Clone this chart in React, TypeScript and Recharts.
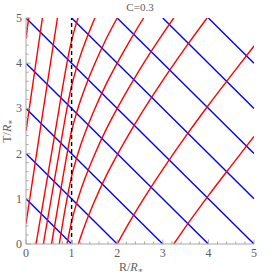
import { LineChart, Line, XAxis, YAxis } from "recharts";

const FRAME = "#a6a6a6";
const TEXT = "#5e5e5e";
const FONT = "'Liberation Serif', 'DejaVu Serif', serif";
const RED = "#ff0000";
const BLUE = "#0000ff";

const MAJOR_TICKS = [0, 1, 2, 3, 4, 5];
const ALL_TICKS = [
  0, 0.2, 0.4, 0.6, 0.8, 1, 1.2, 1.4, 1.6, 1.8, 2, 2.2, 2.4, 2.6, 2.8, 3,
  3.2, 3.4, 3.6, 3.8, 4, 4.2, 4.4, 4.6, 4.8, 5,
];

// ingoing rays (blue), [R, T]
const IN_RAYS: number[][][] = [
  [[0, 1], [1, 0]],
  [[0, 2], [2, 0]],
  [[0, 3], [3, 0]],
  [[0, 4], [4, 0]],
  [[0, 5], [5, 0]],
  [[1, 5], [5, 1]],
  [[2, 5], [5, 2]],
  [[3, 5], [5, 3]],
  [[4, 5], [5, 4]],
];

// outgoing rays (red), [R, T]
const OUT_L3 = [[0, 4.55], [0.03, 4.78], [0.06, 5]];
const OUT_L2 = [[0, 2.5], [0.18, 3.75], [0.36, 5]];
const OUT_L1 = [[0, 0.45], [0.33, 2.65], [0.69, 5]];
const OUT_B1 = [[0.22, 0], [0.61, 2.3], [1, 4.5], [1.1, 4.87], [1.14, 5]];
const OUT_B2 = [[0.38, 0], [0.69, 1.8], [1, 3.5], [1.1, 3.87], [1.2, 4.19], [1.3, 4.47], [1.51, 5]];
const OUT_B3 = [[0.56, 0], [0.78, 1.3], [1, 2.5], [1.1, 2.87], [1.2, 3.19], [1.3, 3.47], [1.5, 3.97], [1.75, 4.52], [2, 5]];
const OUT_B4 = [[0.73, 0], [0.86, 0.78], [1, 1.5], [1.1, 1.87], [1.2, 2.19], [1.3, 2.47], [1.5, 2.97], [1.75, 3.52], [2, 4.0], [2.25, 4.45], [2.58, 5]];
const OUT_B5 = [[0.9, 0], [0.95, 0.26], [1, 0.5], [1.1, 0.87], [1.2, 1.19], [1.3, 1.47], [1.5, 1.97], [1.75, 2.52], [2, 3.0], [2.5, 3.87], [3, 4.65], [3.24, 5]];
const OUT_A = [[1.15, 0], [1.2, 0.16], [1.3, 0.44], [1.5, 0.94], [1.75, 1.49], [2, 1.97], [2.5, 2.84], [3, 3.62], [3.5, 4.35], [3.97, 5]];
const OUT_D = [[2, 0], [2.25, 0.45], [2.5, 0.87], [3, 1.65], [3.5, 2.38], [4, 3.07], [4.5, 3.73], [5, 4.38]];
const OUT_E = [[3.24, 0], [3.5, 0.38], [4, 1.07], [4.5, 1.73], [5, 2.38]];
const OUT_RAYS = [OUT_L3, OUT_L2, OUT_L1, OUT_B1, OUT_B2, OUT_B3, OUT_B4, OUT_B5, OUT_A, OUT_D, OUT_E];

// stellar surface
const SURFACE = [[1, 0], [1, 5]];

const toXY = (pts: number[][]) => pts.map(([x, y]) => ({ x, y }));
const isMajor = (v: number) => MAJOR_TICKS.includes(v);
const tickText = { fontFamily: FONT, fontSize: 12, fill: TEXT };

function BottomTick({ x, y, payload }: any) {
  const major = isMajor(payload.value);
  return (
    <g>
      <line x1={x} x2={x} y1={y} y2={y - (major ? 4.5 : 2.5)} stroke={FRAME} />
      {major && (
        <text x={x} y={y + 13} textAnchor="middle" {...tickText}>
          {payload.value}
        </text>
      )}
    </g>
  );
}

function LeftTick({ x, y, payload }: any) {
  const major = isMajor(payload.value);
  return (
    <g>
      <line x1={x} x2={x + (major ? 4.5 : 2.5)} y1={y} y2={y} stroke={FRAME} />
      {major && (
        <text x={x - 4} y={y + 4} textAnchor="end" {...tickText}>
          {payload.value}
        </text>
      )}
    </g>
  );
}

function TopTick({ x, y, payload }: any) {
  const major = isMajor(payload.value);
  return <line x1={x} x2={x} y1={y} y2={y + (major ? 4.5 : 2.5)} stroke={FRAME} />;
}

function RightTick({ x, y, payload }: any) {
  const major = isMajor(payload.value);
  return <line x1={x} x2={x - (major ? 4.5 : 2.5)} y1={y} y2={y} stroke={FRAME} />;
}

export default function App() {
  return (
    <div style={{ position: "absolute", left: 0, top: 0, width: 273, height: 280 }}>
      <LineChart width={273} height={280} margin={{ top: 18, right: 19, bottom: 16, left: 8 }}>
        <XAxis
          xAxisId="b"
          type="number"
          dataKey="x"
          domain={[0, 5]}
          allowDataOverflow
          ticks={ALL_TICKS}
          interval={0}
          tickSize={0}
          tickMargin={0}
          tickLine={false}
          tick={<BottomTick />}
          height={20}
          axisLine={{ stroke: FRAME }}
        />
        <XAxis
          xAxisId="t"
          orientation="top"
          type="number"
          dataKey="x"
          domain={[0, 5]}
          allowDataOverflow
          ticks={ALL_TICKS}
          interval={0}
          tickSize={0}
          tickMargin={0}
          tickLine={false}
          tick={<TopTick />}
          height={0}
          axisLine={{ stroke: FRAME }}
        />
        <YAxis
          yAxisId="l"
          type="number"
          domain={[0, 5]}
          allowDataOverflow
          ticks={ALL_TICKS}
          interval={0}
          tickSize={0}
          tickMargin={0}
          tickLine={false}
          tick={<LeftTick />}
          width={18}
          axisLine={{ stroke: FRAME }}
        />
        <YAxis
          yAxisId="r"
          orientation="right"
          type="number"
          domain={[0, 5]}
          allowDataOverflow
          ticks={ALL_TICKS}
          interval={0}
          tickSize={0}
          tickMargin={0}
          tickLine={false}
          tick={<RightTick />}
          width={0}
          axisLine={{ stroke: FRAME }}
        />
        {IN_RAYS.map((pts, i) => (
          <Line
            key={"in" + i}
            xAxisId="b"
            yAxisId="l"
            data={toXY(pts)}
            dataKey="y"
            type="linear"
            stroke={BLUE}
            strokeWidth={1.4}
            dot={false}
            isAnimationActive={false}
          />
        ))}
        {OUT_RAYS.map((pts, i) => (
          <Line
            key={"out" + i}
            xAxisId="b"
            yAxisId="l"
            data={toXY(pts)}
            dataKey="y"
            type="monotone"
            stroke={RED}
            strokeWidth={1.4}
            dot={false}
            isAnimationActive={false}
          />
        ))}
        <Line
          xAxisId="b"
          yAxisId="l"
          data={toXY(SURFACE)}
          dataKey="y"
          type="linear"
          stroke="#000"
          strokeWidth={1.4}
          strokeDasharray="4 3"
          dot={false}
          isAnimationActive={false}
        />
      </LineChart>
      <svg
        width={273}
        height={280}
        style={{ position: "absolute", left: 0, top: 0, pointerEvents: "none" }}
      >
        <text x={140} y={11} textAnchor="middle" fontFamily={FONT} fontSize={11} fill={TEXT}>
          C=0.3
        </text>
        <text x={131} y={271} textAnchor="middle" fontFamily={FONT} fontSize={12} fill={TEXT}>
          R/<tspan fontStyle="italic">R</tspan>
          <tspan fontSize={8} dy={2}>∗</tspan>
        </text>
        <text
          x={11}
          y={131}
          textAnchor="middle"
          fontFamily={FONT}
          fontSize={12}
          fill={TEXT}
          transform="rotate(-90 11 131)"
        >
          T/<tspan fontStyle="italic">R</tspan>
          <tspan fontSize={8} dy={2}>∗</tspan>
        </text>
      </svg>
    </div>
  );
}
